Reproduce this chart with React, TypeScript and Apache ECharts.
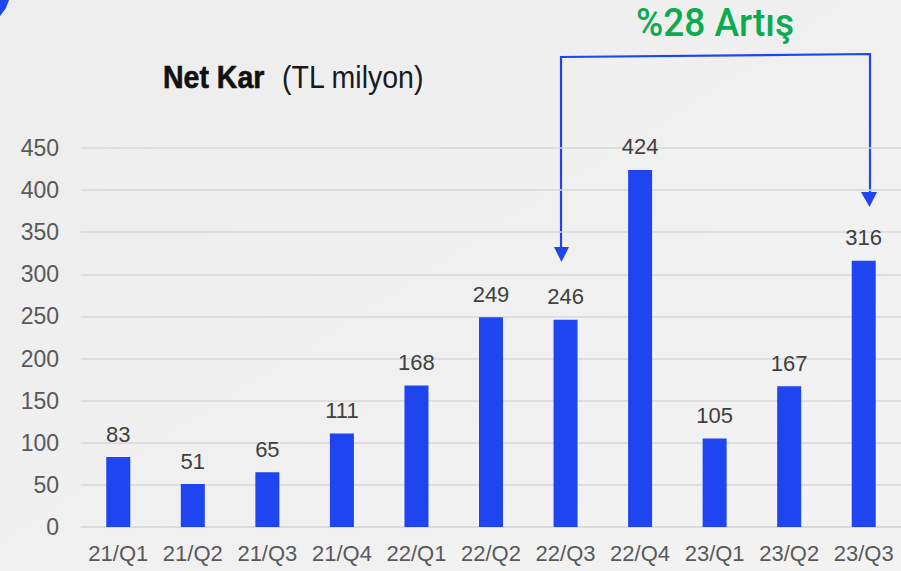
import React, { useEffect, useRef } from "react";
import * as echarts from "echarts";

const categories = ["21/Q1", "21/Q2", "21/Q3", "21/Q4", "22/Q1", "22/Q2", "22/Q3", "22/Q4", "23/Q1", "23/Q2", "23/Q3"];
const netKar = [83, 51, 65, 111, 168, 249, 246, 424, 105, 167, 316];
const titleBold = "Net Kar";
const titleUnit = "(TL milyon)";
const growthText = "%28 Artış";

const BLUE = "#1f45f0";
const FONT = "'Liberation Sans', Arial, sans-serif";

export default function App() {
  const ref = useRef<HTMLDivElement>(null);
  useEffect(() => {
    document.body.style.margin = "0";
    const chart = echarts.init(ref.current!, null, { renderer: "svg" });
    chart.setOption({
      animation: false,
      backgroundColor: {
        type: "linear", x: 0, y: 0, x2: 1, y2: 1,
        colorStops: [
          { offset: 0, color: "#ededed" },
          { offset: 1, color: "#f3f3f3" },
        ],
      },
      grid: { left: 81, right: -3, top: 148, bottom: 44, containLabel: false },
      xAxis: {
        type: "category",
        data: categories,
        axisLine: { show: true, lineStyle: { color: "#d9d9d9", width: 1.5 } },
        axisTick: { show: false },
        axisLabel: { color: "#595959", fontSize: 22, fontFamily: FONT, margin: 15, interval: 0, hideOverlap: false },
      },
      yAxis: {
        type: "value",
        min: 0,
        max: 450,
        interval: 50,
        axisLine: { show: false },
        axisTick: { show: false },
        splitLine: { lineStyle: { color: "#d9d9d9", width: 1.5 } },
        axisLabel: { color: "#595959", fontSize: 23, fontFamily: FONT, margin: 22 },
      },
      series: [
        {
          type: "bar",
          data: netKar,
          barWidth: 24,
          itemStyle: { color: BLUE },
          label: {
            show: true,
            position: "top",
            distance: 12,
            color: "#404040",
            fontSize: 22,
            fontFamily: FONT,
          },
        },
      ],
      graphic: [
        {
          type: "polygon",
          shape: { points: [[0, 0], [9, 0], [6, 8], [0, 16]] },
          style: { fill: BLUE },
        },
        {
          type: "text",
          x: 163,
          y: 77,
          scaleX: 0.92,
          style: {
            text: titleBold,
            fontSize: 31,
            fontWeight: "bold",
            fontFamily: FONT,
            fill: "#111111",
            stroke: "#111111",
            lineWidth: 0.6,
            verticalAlign: "middle",
            align: "left",
          },
        },
        {
          type: "text",
          x: 282,
          y: 77,
          scaleX: 0.92,
          style: {
            text: titleUnit,
            fontSize: 31,
            fontFamily: FONT,
            fill: "#1a1a1a",
            verticalAlign: "middle",
            align: "left",
          },
        },
        {
          type: "text",
          x: 715,
          y: 3,
          scaleX: 0.95,
          style: {
            text: growthText,
            fontSize: 39,
            lineHeight: 39,
            fontWeight: 500,
            fontFamily: "Roboto, sans-serif",
            fill: "#0bab4f",
            verticalAlign: "top",
            align: "center",
          },
        },
        {
          type: "polyline",
          shape: { points: [[561, 248], [561, 57], [870, 54], [870, 193]] },
          style: { stroke: BLUE, lineWidth: 2.2, fill: "none" },
        },
        {
          type: "polygon",
          shape: { points: [[554, 247], [569, 247], [561.5, 262]] },
          style: { fill: BLUE },
        },
        {
          type: "polygon",
          shape: { points: [[861, 192], [877, 192], [869.5, 207]] },
          style: { fill: BLUE },
        },
      ],
    });
    return () => chart.dispose();
  }, []);
  return <div ref={ref} style={{ position: "fixed", left: 0, top: 0, width: 901, height: 571 }} />;
}
